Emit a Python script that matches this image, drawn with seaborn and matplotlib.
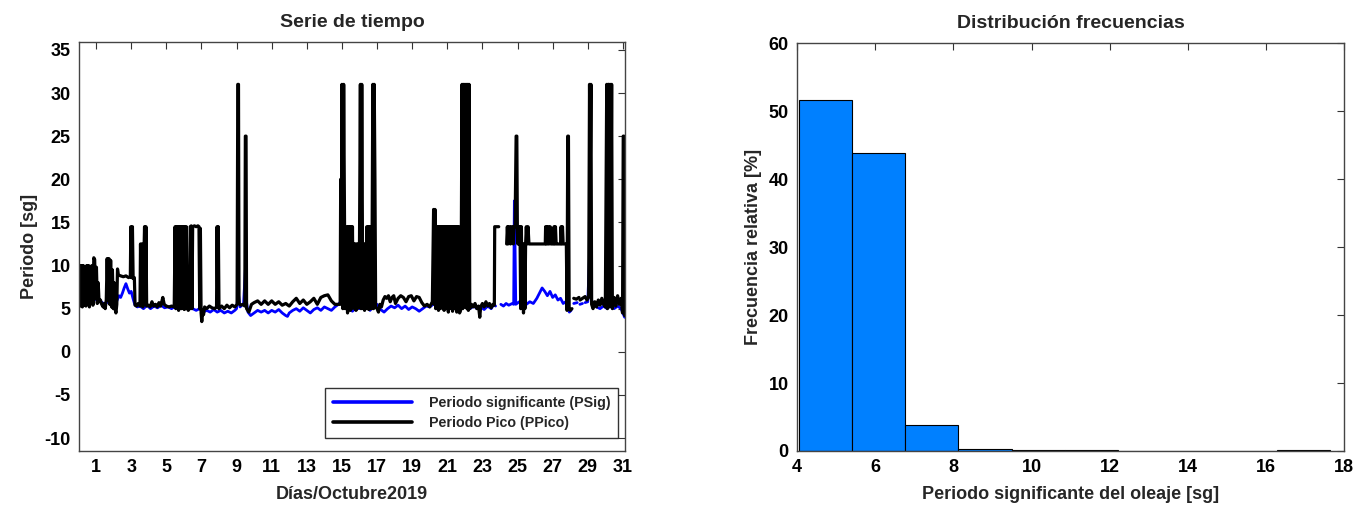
import numpy as np
import pandas as pd
import matplotlib
matplotlib.use("Agg")
import matplotlib.pyplot as plt
from matplotlib.lines import Line2D
import seaborn as sns

# Periodo pico (PPico) - (dia, periodo [sg]); nan = sin dato
ppico = [
    (0.03, 6.0), (0.08, 10.0), (0.12, 5.3), (0.17, 10.0), (0.22, 5.2), (0.27, 10.0), (0.32, 5.4),
    (0.37, 9.8), (0.42, 5.3), (0.47, 10.0), (0.52, 5.5), (0.57, 10.0), (0.62, 5.2), (0.67, 9.9),
    (0.72, 6.0), (0.77, 10.0), (0.82, 5.4), (0.87, 10.9), (0.92, 10.7), (0.97, 6.2), (1.02, 9.8),
    (1.07, 5.6), (1.12, 8.0), (1.17, 5.8), (1.25, 6.0), (1.32, 5.5), (1.4, 5.2), (1.47, 5.6),
    (1.52, 5.0), (1.58, 6.0), (1.63, 10.8), (1.68, 6.0), (1.73, 10.8), (1.78, 5.5), (1.83, 10.6),
    (1.88, 5.2), (1.93, 9.5), (1.98, 5.0), (2.03, 8.0), (2.08, 5.0), (2.13, 4.5), (2.18, 5.5),
    (2.22, 9.6), (2.27, 8.9), (2.4, 8.8), (2.55, 8.7), (2.7, 8.8), (2.85, 8.6), (2.95, 8.7),
    (2.98, 14.5), (3.02, 8.6), (3.07, 14.5), (3.11, 8.5), (3.18, 8.6), (3.22, 5.4), (3.3, 5.3),
    (3.4, 5.6), (3.5, 5.3), (3.53, 12.5), (3.57, 5.4), (3.62, 12.5), (3.66, 5.2), (3.76, 14.5),
    (3.8, 5.5), (3.84, 14.5), (3.88, 5.3), (3.98, 5.4), (4.08, 5.2), (4.18, 5.8), (4.28, 5.3),
    (4.38, 5.5), (4.48, 5.2), (4.58, 5.7), (4.68, 5.3), (4.8, 6.3), (4.88, 5.5), (5.0, 5.3),
    (5.15, 5.2), (5.3, 5.3), (5.45, 5.2), (5.5, 14.5), (5.54, 5.0), (5.58, 14.5), (5.62, 5.2),
    (5.66, 14.5), (5.7, 4.8), (5.74, 14.5), (5.78, 5.1), (5.82, 14.5), (5.86, 5.0), (5.9, 14.5),
    (5.94, 5.3), (5.98, 14.5), (6.02, 4.9), (6.06, 14.5), (6.1, 5.0), (6.14, 14.5), (6.18, 5.1),
    (6.25, 4.8), (6.32, 5.0), (6.36, 14.5), (6.42, 14.6), (6.46, 5.0), (6.5, 14.5), (6.6, 14.6),
    (6.7, 14.5), (6.8, 14.6), (6.86, 14.5), (6.9, 5.0), (6.94, 14.3), (6.98, 4.5), (7.02, 3.5),
    (7.07, 4.8), (7.12, 4.3), (7.18, 5.2), (7.3, 5.0), (7.45, 5.3), (7.6, 5.1), (7.75, 5.0),
    (7.86, 5.2), (7.89, 14.5), (7.93, 5.2), (7.96, 14.5), (8.0, 5.0), (8.15, 5.3), (8.3, 5.0),
    (8.45, 5.4), (8.6, 5.1), (8.75, 5.4), (8.9, 5.2), (9.03, 5.5), (9.07, 31.0), (9.11, 31.0),
    (9.14, 5.6), (9.25, 5.4), (9.35, 5.5), (9.47, 5.3), (9.5, 25.0), (9.54, 25.0), (9.57, 5.0),
    (9.7, 4.6), (9.85, 5.5), (10.0, 5.7), (10.2, 5.9), (10.4, 5.5), (10.6, 5.9), (10.8, 5.5),
    (11.0, 5.9), (11.2, 5.5), (11.4, 5.8), (11.6, 5.4), (11.8, 5.6), (12.0, 5.3), (12.2, 5.8),
    (12.4, 6.2), (12.6, 5.6), (12.8, 6.0), (13.0, 5.5), (13.2, 5.8), (13.4, 6.2), (13.6, 5.5),
    (13.8, 6.3), (14.0, 6.5), (14.2, 6.6), (14.4, 5.9), (14.6, 5.5), (14.8, 5.5), (14.9, 5.5),
    (14.93, 20.0), (14.97, 10.0), (15.0, 31.0), (15.05, 5.0), (15.1, 31.0), (15.15, 14.5),
    (15.19, 5.0), (15.28, 14.5), (15.32, 4.5), (15.36, 14.5), (15.4, 5.0), (15.44, 14.5),
    (15.48, 4.8), (15.52, 14.5), (15.56, 5.0), (15.6, 14.5), (15.64, 5.2), (15.68, 12.5),
    (15.72, 5.0), (15.76, 12.5), (15.8, 4.8), (15.84, 12.5), (15.88, 5.0), (15.92, 12.5),
    (15.96, 5.2), (16.0, 12.5), (16.05, 31.0), (16.09, 5.0), (16.13, 31.0), (16.17, 12.5),
    (16.21, 5.0), (16.25, 12.5), (16.29, 4.8), (16.33, 12.5), (16.37, 5.5), (16.42, 14.5),
    (16.46, 5.0), (16.5, 14.5), (16.54, 4.9), (16.58, 14.5), (16.62, 5.1), (16.66, 14.5),
    (16.7, 5.0), (16.76, 31.0), (16.8, 5.0), (16.84, 31.0), (16.88, 20.0), (16.92, 5.2),
    (17.0, 5.0), (17.08, 4.6), (17.16, 5.5), (17.25, 5.2), (17.35, 6.0), (17.45, 6.4),
    (17.55, 6.2), (17.65, 6.5), (17.75, 5.8), (17.85, 6.3), (17.95, 6.5), (18.05, 5.6),
    (18.2, 6.2), (18.35, 6.5), (18.5, 6.3), (18.65, 5.8), (18.8, 6.4), (18.95, 6.5), (19.1, 5.9),
    (19.25, 6.4), (19.4, 6.3), (19.55, 5.7), (19.7, 5.3), (19.85, 5.5), (20.0, 5.2), (20.15, 5.8),
    (20.22, 16.5), (20.26, 5.5), (20.3, 16.5), (20.34, 5.0), (20.38, 14.5), (20.42, 5.2),
    (20.46, 14.5), (20.5, 4.8), (20.54, 14.5), (20.58, 5.0), (20.62, 14.5), (20.66, 5.5),
    (20.7, 14.5), (20.74, 5.0), (20.78, 14.5), (20.82, 4.8), (20.86, 14.5), (20.9, 5.2),
    (20.94, 14.5), (20.98, 5.0), (21.02, 14.5), (21.06, 4.6), (21.1, 14.5), (21.14, 5.2),
    (21.18, 14.5), (21.22, 5.0), (21.26, 14.5), (21.3, 4.7), (21.34, 14.5), (21.38, 5.0),
    (21.42, 14.5), (21.46, 5.3), (21.5, 14.5), (21.54, 4.6), (21.58, 14.5), (21.62, 5.0),
    (21.66, 14.5), (21.7, 4.5), (21.78, 5.0), (21.84, 31.0), (21.88, 5.0), (21.92, 31.0),
    (21.96, 5.2), (22.0, 31.0), (22.04, 14.5), (22.08, 31.0), (22.12, 5.0), (22.16, 31.0),
    (22.2, 4.8), (22.24, 31.0), (22.28, 5.0), (22.38, 5.5), (22.48, 5.2), (22.58, 5.6),
    (22.68, 5.0), (22.78, 5.3), (22.85, 4.0), (22.9, 5.2), (23.0, 5.6), (23.1, 5.2), (23.2, 5.8),
    (23.3, 5.3), (23.4, 5.6), (23.5, 5.1), (23.6, 5.5), (23.68, 5.4), (23.7, 14.5), (23.93, 14.5),
    (23.96, np.nan), (24.38, 12.5), (24.42, 14.5), (24.46, 12.5), (24.5, 14.5), (24.55, 14.5),
    (24.6, 12.5), (24.65, 14.5), (24.72, 14.5), (24.76, 12.5), (24.8, 14.5), (24.86, 14.5),
    (24.92, 25.0), (24.96, 25.0), (24.99, 14.5), (25.02, 12.5), (25.06, 14.5), (25.1, 12.5),
    (25.14, 14.5), (25.18, 5.0), (25.22, 14.5), (25.26, 5.2), (25.3, 12.5), (25.34, 4.5),
    (25.38, 12.5), (25.42, 5.0), (25.46, 12.5), (25.5, 14.5), (25.54, 12.5), (25.6, 14.5),
    (25.65, 12.5), (25.8, 12.5), (26.0, 12.5), (26.2, 12.5), (26.4, 12.5), (26.58, 12.5),
    (26.6, 14.5), (26.64, 12.5), (26.68, 14.5), (26.72, 12.5), (26.76, 14.5), (26.8, 12.5),
    (26.86, 14.5), (26.9, 12.5), (27.05, 12.5), (27.08, 14.5), (27.12, 12.5), (27.16, 14.5),
    (27.2, 12.5), (27.25, 12.5), (27.45, 12.5), (27.48, 14.5), (27.52, 12.5), (27.56, 14.5),
    (27.6, 12.5), (27.78, 12.5), (27.82, 4.8), (27.86, 25.0), (27.9, 25.0), (27.94, 5.0),
    (28.0, 4.8), (28.1, 5.0), (28.15, np.nan), (28.2, 6.2), (28.35, 6.1), (28.5, 6.3),
    (28.52, np.nan), (28.56, 6.0), (28.7, 6.2), (28.85, 6.4), (28.95, 6.0), (29.05, 6.3),
    (29.1, 31.0), (29.14, 20.0), (29.18, 31.0), (29.22, 5.5), (29.3, 5.0), (29.4, 5.8),
    (29.5, 5.2), (29.6, 6.0), (29.7, 5.4), (29.8, 6.2), (29.9, 5.5), (30.0, 5.2), (30.08, 31.0),
    (30.12, 5.0), (30.16, 31.0), (30.2, 31.0), (30.24, 5.2), (30.28, 31.0), (30.32, 14.5),
    (30.36, 31.0), (30.4, 5.0), (30.5, 6.3), (30.6, 5.3), (30.7, 6.5), (30.8, 5.5), (30.9, 6.2),
    (30.98, 4.5), (31.02, 25.0), (31.06, 25.0), (31.1, 4.2),
]

# Periodo significante (PSig)
psig = [
    (0.03, 6.5), (0.15, 6.0), (0.3, 6.6), (0.45, 6.2), (0.6, 6.8), (0.75, 6.3), (0.9, 6.0),
    (1.05, 6.2), (1.2, 5.9), (1.35, 5.7), (1.5, 5.5), (1.65, 5.8), (1.8, 5.6), (1.95, 5.4),
    (2.1, 5.5), (2.2, 6.0), (2.3, 6.5), (2.4, 6.3), (2.5, 6.8), (2.6, 7.4), (2.7, 7.9), (2.8, 7.3),
    (2.9, 6.8), (3.0, 7.0), (3.1, 6.2), (3.2, 5.5), (3.35, 5.2), (3.5, 5.3), (3.7, 5.0), (3.9, 5.4),
    (4.1, 5.0), (4.3, 5.3), (4.5, 5.1), (4.7, 5.4), (4.9, 5.1), (5.1, 5.2), (5.3, 5.0), (5.5, 5.3),
    (5.7, 4.9), (5.9, 5.2), (6.1, 5.0), (6.3, 5.2), (6.5, 5.0), (6.7, 4.8), (6.9, 5.0), (7.1, 4.6),
    (7.3, 4.8), (7.5, 4.6), (7.7, 4.9), (7.9, 4.6), (8.1, 4.8), (8.3, 4.5), (8.5, 4.7), (8.7, 4.5),
    (8.9, 4.8), (9.0, 5.0), (9.1, 6.8), (9.2, 5.2), (9.4, 5.6), (9.5, 9.5), (9.55, 6.0), (9.65, 4.6),
    (9.8, 4.2), (10.0, 4.5), (10.2, 4.8), (10.4, 4.6), (10.6, 4.8), (10.8, 4.5), (11.0, 4.8),
    (11.2, 4.6), (11.4, 4.9), (11.6, 4.5), (11.8, 4.2), (11.9, 4.1), (12.0, 4.5), (12.2, 4.8),
    (12.4, 5.0), (12.6, 4.7), (12.8, 5.1), (13.0, 4.8), (13.2, 4.5), (13.4, 4.9), (13.6, 5.1),
    (13.8, 4.8), (14.0, 5.2), (14.2, 5.0), (14.4, 4.8), (14.6, 5.2), (14.8, 5.5), (15.0, 6.0),
    (15.2, 5.2), (15.4, 5.0), (15.6, 4.7), (15.8, 5.2), (16.0, 5.0), (16.2, 5.6), (16.4, 5.2),
    (16.6, 4.8), (16.8, 5.3), (17.0, 5.5), (17.2, 4.9), (17.4, 4.6), (17.6, 5.0), (17.8, 5.3),
    (18.0, 5.1), (18.2, 5.4), (18.4, 5.0), (18.6, 5.3), (18.8, 4.9), (19.0, 5.2), (19.2, 5.0),
    (19.4, 4.7), (19.6, 5.0), (19.8, 5.3), (20.0, 5.2), (20.2, 5.5), (20.4, 5.8), (20.6, 6.1),
    (20.8, 5.8), (21.0, 5.5), (21.2, 5.7), (21.4, 5.3), (21.6, 5.6), (21.75, 6.0), (21.85, 7.4),
    (21.95, 5.5), (22.1, 5.2), (22.3, 5.0), (22.5, 5.3), (22.7, 5.0), (22.9, 5.2), (23.1, 4.9),
    (23.3, 5.3), (23.5, 5.0), (23.65, 5.5), (23.75, 5.3), (23.8, np.nan), (24.05, 5.5), (24.2, 5.3),
    (24.35, 5.6), (24.5, 5.4), (24.7, 5.6), (24.78, 5.5), (24.82, 17.5), (24.86, 12.0), (24.9, 5.5),
    (25.1, 5.8), (25.3, 5.3), (25.5, 5.5), (25.7, 5.8), (25.9, 5.6), (26.1, 6.2), (26.25, 6.8),
    (26.4, 7.4), (26.55, 7.0), (26.7, 6.5), (26.85, 7.0), (27.0, 6.3), (27.15, 6.6), (27.3, 6.0),
    (27.45, 6.2), (27.6, 5.6), (27.75, 5.8), (27.85, 5.2), (27.95, 4.6), (28.05, 4.8),
    (28.12, np.nan), (28.2, 5.6), (28.4, 5.7), (28.45, np.nan), (28.55, 5.5), (28.7, 5.6),
    (28.75, np.nan), (28.85, 5.7), (29.0, 5.8), (29.1, 11.0), (29.15, 10.5), (29.2, 6.0),
    (29.35, 5.5), (29.5, 5.2), (29.7, 5.0), (29.9, 5.3), (30.1, 5.0), (30.3, 5.5), (30.5, 5.0),
    (30.7, 5.3), (30.9, 5.0), (31.0, 4.5), (31.1, 4.0),
]

# Histograma: bordes de clase [sg] y frecuencia relativa [%]
bordes = [4.05, 5.41, 6.77, 8.13, 9.49, 10.85, 12.21, 13.57, 14.93, 16.29, 17.65]
frec_rel = [51.7, 43.8, 3.8, 0.3, 0.15, 0.15, 0.0, 0.0, 0.0, 0.15]


def to_frame(pairs):
    df = pd.DataFrame(pairs, columns=["dia", "periodo"])
    # tramo nuevo después de cada hueco
    df["tramo"] = df["periodo"].isna().cumsum()
    return df.dropna()


sns.set_style("white")
plt.rcParams["font.family"] = ["Liberation Sans", "DejaVu Sans"]
plt.rcParams["font.weight"] = "bold"
plt.rcParams["axes.labelweight"] = "bold"
plt.rcParams["axes.titleweight"] = "bold"
plt.rcParams["axes.unicode_minus"] = False

fig = plt.figure(figsize=(13.7, 5.13), dpi=100)
ax1 = fig.add_axes([0.0577, 0.1209, 0.3985, 0.797])
ax2 = fig.add_axes([0.5818, 0.1209, 0.3993, 0.795])

d_sig = to_frame(psig)
d_pico = to_frame(ppico)
sns.lineplot(data=d_pico, x="dia", y="periodo", units="tramo", estimator=None, sort=False,
             color="black", linewidth=2.3, ax=ax1)
sns.lineplot(data=d_sig, x="dia", y="periodo", units="tramo", estimator=None, sort=False,
             color="#0000ff", linewidth=2.0, ax=ax1, zorder=1)

ax1.set_xlim(0.03, 31.12)
ax1.set_ylim(-11.5, 35.9)
ax1.set_xticks(np.arange(1, 32, 2))
ax1.set_yticks(np.arange(-10, 36, 5))
ax1.set_title("Serie de tiempo", fontsize=14, pad=11)
ax1.set_xlabel("Días/Octubre2019", fontsize=13, labelpad=7)
ax1.set_ylabel("Periodo [sg]", fontsize=13, labelpad=5)

handles = [Line2D([], [], color="#0000ff", lw=2.6), Line2D([], [], color="black", lw=2.6)]
leg = ax1.legend(handles, ["Periodo significante (PSig)", "Periodo Pico (PPico)"],
                 loc="lower right", bbox_to_anchor=(0.993, 0.025), fontsize=10.3,
                 frameon=True, fancybox=False, edgecolor="black", handlelength=5.5,
                 handletextpad=1.2, borderpad=0.55, labelspacing=0.4, borderaxespad=0.2)
leg.get_frame().set_linewidth(1.0)

centros = [(a + b) / 2 for a, b in zip(bordes[:-1], bordes[1:])]
sns.histplot(x=centros, weights=frec_rel, bins=bordes, color="#0080ff", alpha=1,
             edgecolor="black", linewidth=0.8, ax=ax2)
ax2.set_xlim(4, 18)
ax2.set_ylim(0, 60)
ax2.set_xticks(np.arange(4, 19, 2))
ax2.set_yticks(np.arange(0, 61, 10))
ax2.set_title("Distribución frecuencias", fontsize=14, pad=11)
ax2.set_xlabel("Periodo significante del oleaje [sg]", fontsize=13, labelpad=7)
ax2.set_ylabel("Frecuencia relativa [%]", fontsize=13, labelpad=5)

for ax in (ax1, ax2):
    ax.tick_params(direction="in", length=5, width=0.8, top=True, right=True,
                   labelsize=13, colors="#333333", labelcolor="black", pad=6)
    for s in ax.spines.values():
        s.set_visible(True)
        s.set_color("#444444")
        s.set_linewidth(1.0)
    for lab in ax.get_xticklabels() + ax.get_yticklabels():
        lab.set_fontweight("bold")

fig.savefig("out.png", dpi=100)
